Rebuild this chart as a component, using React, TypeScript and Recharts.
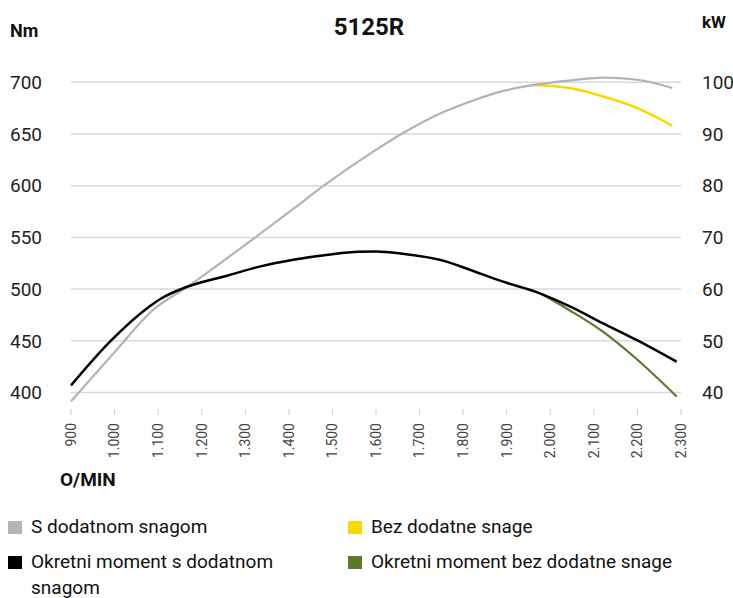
import React from "react";
import {
  LineChart,
  Line,
  CartesianGrid,
  XAxis,
  YAxis,
} from "recharts";

// engine speed (o/min) and power curves (kW)
const powerWithRpm = [900, 1000, 1090, 1170, 1260, 1410, 1480, 1590, 1660, 1740, 1820, 1890, 1970, 2050, 2120, 2200, 2280];
const powerWithKw = [38.3, 47.8, 56.1, 60.6, 66.1, 75.5, 80.0, 86.4, 90.1, 93.7, 96.4, 98.3, 99.6, 100.4, 100.9, 100.5, 98.9];

const powerWithoutRpm = [1960, 2045, 2120, 2200, 2280];
const powerWithoutKw = [99.5, 98.9, 97.3, 95.0, 91.6];

// torque curves (Nm)
const torqueWithRpm = [900, 990, 1080, 1105, 1165, 1260, 1335, 1410, 1490, 1560, 1600, 1660, 1760, 1815, 1890, 1970, 2045, 2120, 2200, 2290];
const torqueWithNm = [406.8, 449.4, 483.2, 490.4, 502, 513.2, 522, 528.4, 533.3, 536.2, 536.4, 534.2, 526.8, 518.7, 507.4, 496.8, 483.2, 467.1, 450.3, 429.7];

const torqueWithoutRpm = [1980, 2045, 2120, 2200, 2290];
const torqueWithoutNm = [495.2, 479.3, 459, 431.6, 396.1];

const rpmTicks = [900, 1000, 1100, 1200, 1300, 1400, 1500, 1600, 1700, 1800, 1900, 2000, 2100, 2200, 2300];
const rpmTickLabels = ["900", "1.000", "1.100", "1.200", "1.300", "1.400", "1.500", "1.600", "1.700", "1.800", "1.900", "2.000", "2.100", "2.200", "2.300"];
const nmTicks = [400, 450, 500, 550, 600, 650, 700];
const kwTicks = [40, 50, 60, 70, 80, 90, 100];

const legendItems = [
  { name: "S dodatnom snagom", color: "#b3b3b3" },
  { name: "Bez dodatne snage", color: "#f7d900" },
  { name: "Okretni moment s dodatnom snagom", color: "#000000" },
  { name: "Okretni moment bez dodatne snage", color: "#5a7a2b" },
];

const zip = (xs: number[], ys: number[]) => xs.map((rpm, i) => ({ rpm, v: ys[i] }));

const powerWith = zip(powerWithRpm, powerWithKw);
const powerWithout = zip(powerWithoutRpm, powerWithoutKw);
const torqueWith = zip(torqueWithRpm, torqueWithNm);
const torqueWithout = zip(torqueWithoutRpm, torqueWithoutNm);

const font = "Roboto, sans-serif";

const RpmTick = (props: any) => {
  const { x, y, payload } = props;
  const idx = rpmTicks.indexOf(payload.value);
  return (
    <text
      transform={`translate(${x},${y}) rotate(-90)`}
      textAnchor="end"
      dy="0.35em"
      fontSize={14}
      fill="#444"
      fontFamily={font}
    >
      {rpmTickLabels[idx]}
    </text>
  );
};

const App = () => {
  return (
    <div style={{ position: "relative", width: 733, height: 598, fontFamily: font, color: "#111" }}>
      <style>{`body{margin:0}`}</style>
      <LineChart
        width={733}
        height={469}
        margin={{ top: 72, right: 0, bottom: 0, left: 0 }}
      >
        <CartesianGrid
          yAxisId="nm"
          vertical={false}
          syncWithTicks
          stroke="#d9d9d9"
          strokeWidth={1.5}
        />
        <XAxis
          dataKey="rpm"
          type="number"
          domain={[900, 2300]}
          ticks={rpmTicks}
          axisLine={false}
          tickLine={{ stroke: "#cfcfcf" }}
          tickSize={6}
          tickMargin={8}
          height={60}
          tick={<RpmTick />}
        />
        {/* both axes share one grid: kW = 40 + (Nm - 400) / 5 */}
        <YAxis
          yAxisId="nm"
          orientation="left"
          domain={[384, 710]}
          ticks={nmTicks}
          width={71}
          axisLine={false}
          tickLine={false}
          tickSize={0}
          tickMargin={29}
          tick={{ fontSize: 19, fill: "#222", fontFamily: font }}
        />
        <YAxis
          yAxisId="kw"
          orientation="right"
          domain={[36.8, 102]}
          ticks={kwTicks}
          width={52}
          axisLine={false}
          tickLine={false}
          tickSize={0}
          tickMargin={21}
          tick={{ fontSize: 19, fill: "#222", fontFamily: font }}
        />
        <Line
          yAxisId="kw"
          data={powerWithout}
          dataKey="v"
          type="monotone"
          stroke="#f7d900"
          strokeWidth={2.5}
          dot={false}
          isAnimationActive={false}
        />
        <Line
          yAxisId="kw"
          data={powerWith}
          dataKey="v"
          type="monotone"
          stroke="#b3b3b3"
          strokeWidth={2.2}
          dot={false}
          isAnimationActive={false}
        />
        <Line
          yAxisId="nm"
          data={torqueWithout}
          dataKey="v"
          type="monotone"
          stroke="#5a7a2b"
          strokeWidth={2.2}
          dot={false}
          isAnimationActive={false}
        />
        <Line
          yAxisId="nm"
          data={torqueWith}
          dataKey="v"
          type="monotone"
          stroke="#000"
          strokeWidth={2.5}
          dot={false}
          isAnimationActive={false}
        />
      </LineChart>

      <div style={{ position: "absolute", left: 10, top: 22, fontSize: 18, fontWeight: 700, lineHeight: "18px" }}>Nm</div>
      <div style={{ position: "absolute", left: 702, top: 14, fontSize: 17, fontWeight: 700, lineHeight: "17px" }}>kW</div>
      <div style={{ position: "absolute", left: 269, width: 200, textAlign: "center", top: 15, fontSize: 24, fontWeight: 700, lineHeight: "24px" }}>5125R</div>
      <div style={{ position: "absolute", left: 60, top: 470, fontSize: 19, fontWeight: 700, lineHeight: "19px" }}>O/MIN</div>

      <div
        style={{
          position: "absolute",
          left: 8,
          top: 514,
          display: "grid",
          gridTemplateColumns: "340px 370px",
          rowGap: 9,
          fontSize: 19,
          lineHeight: "26px",
          color: "#111",
        }}
      >
        {legendItems.map((item, i) => (
          <div key={item.name} style={{ display: "flex", alignItems: "flex-start" }}>
            <span style={{ width: 14, height: 13, marginTop: 6.5, background: item.color, flex: "none" }} />
            <span style={{ marginLeft: 9, maxWidth: i % 2 === 0 ? 285 : 350 }}>{item.name}</span>
          </div>
        ))}
      </div>
    </div>
  );
};

export default App;
